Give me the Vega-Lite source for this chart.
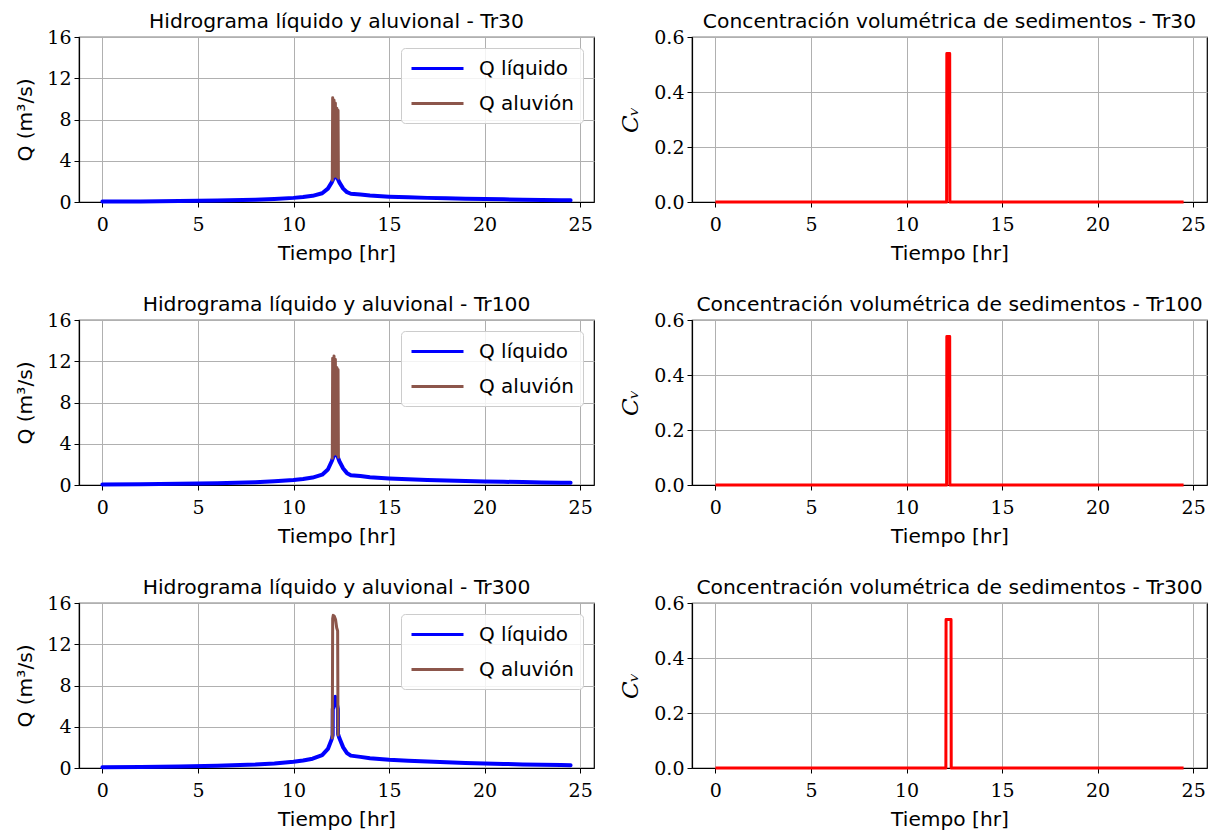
{
  "$schema": "https://vega.github.io/schema/vega-lite/v6.json",
  "background": "white",
  "padding": {"left": 15, "top": 11, "right": 3, "bottom": 5},
  "datasets": {
    "hidro": [
      {"tr": "Tr30", "serie": "Q líquido", "t": 0, "q": 0.05},
      {"tr": "Tr30", "serie": "Q líquido", "t": 2, "q": 0.06},
      {"tr": "Tr30", "serie": "Q líquido", "t": 4, "q": 0.09},
      {"tr": "Tr30", "serie": "Q líquido", "t": 6, "q": 0.14},
      {"tr": "Tr30", "serie": "Q líquido", "t": 8, "q": 0.22},
      {"tr": "Tr30", "serie": "Q líquido", "t": 9, "q": 0.3},
      {"tr": "Tr30", "serie": "Q líquido", "t": 10, "q": 0.4},
      {"tr": "Tr30", "serie": "Q líquido", "t": 10.5, "q": 0.48},
      {"tr": "Tr30", "serie": "Q líquido", "t": 11, "q": 0.6},
      {"tr": "Tr30", "serie": "Q líquido", "t": 11.5, "q": 0.85},
      {"tr": "Tr30", "serie": "Q líquido", "t": 11.8, "q": 1.3},
      {"tr": "Tr30", "serie": "Q líquido", "t": 12.0, "q": 1.9},
      {"tr": "Tr30", "serie": "Q líquido", "t": 12.1, "q": 2.3},
      {"tr": "Tr30", "serie": "Q líquido", "t": 12.2, "q": 2.55},
      {"tr": "Tr30", "serie": "Q líquido", "t": 12.3, "q": 2.3},
      {"tr": "Tr30", "serie": "Q líquido", "t": 12.4, "q": 1.9},
      {"tr": "Tr30", "serie": "Q líquido", "t": 12.6, "q": 1.3},
      {"tr": "Tr30", "serie": "Q líquido", "t": 12.8, "q": 0.95},
      {"tr": "Tr30", "serie": "Q líquido", "t": 13, "q": 0.8},
      {"tr": "Tr30", "serie": "Q líquido", "t": 13.5, "q": 0.72},
      {"tr": "Tr30", "serie": "Q líquido", "t": 14, "q": 0.62},
      {"tr": "Tr30", "serie": "Q líquido", "t": 15, "q": 0.52},
      {"tr": "Tr30", "serie": "Q líquido", "t": 16, "q": 0.45},
      {"tr": "Tr30", "serie": "Q líquido", "t": 17, "q": 0.4},
      {"tr": "Tr30", "serie": "Q líquido", "t": 18, "q": 0.36},
      {"tr": "Tr30", "serie": "Q líquido", "t": 19, "q": 0.32},
      {"tr": "Tr30", "serie": "Q líquido", "t": 20, "q": 0.29},
      {"tr": "Tr30", "serie": "Q líquido", "t": 21, "q": 0.26},
      {"tr": "Tr30", "serie": "Q líquido", "t": 22, "q": 0.23},
      {"tr": "Tr30", "serie": "Q líquido", "t": 23, "q": 0.2},
      {"tr": "Tr30", "serie": "Q líquido", "t": 24, "q": 0.18},
      {"tr": "Tr30", "serie": "Q líquido", "t": 24.5, "q": 0.17},
      {"tr": "Tr30", "serie": "Q aluvión", "t": 12.03, "q": 2.1},
      {"tr": "Tr30", "serie": "Q aluvión", "t": 12.05, "q": 10.1},
      {"tr": "Tr30", "serie": "Q aluvión", "t": 12.08, "q": 2.4},
      {"tr": "Tr30", "serie": "Q aluvión", "t": 12.12, "q": 9.9},
      {"tr": "Tr30", "serie": "Q aluvión", "t": 12.15, "q": 2.5},
      {"tr": "Tr30", "serie": "Q aluvión", "t": 12.19, "q": 9.6},
      {"tr": "Tr30", "serie": "Q aluvión", "t": 12.23, "q": 2.5},
      {"tr": "Tr30", "serie": "Q aluvión", "t": 12.27, "q": 9.1},
      {"tr": "Tr30", "serie": "Q aluvión", "t": 12.30, "q": 2.4},
      {"tr": "Tr30", "serie": "Q aluvión", "t": 12.33, "q": 8.9},
      {"tr": "Tr30", "serie": "Q aluvión", "t": 12.35, "q": 2.3},

      {"tr": "Tr100", "serie": "Q líquido", "t": 0, "q": 0.06},
      {"tr": "Tr100", "serie": "Q líquido", "t": 2, "q": 0.08},
      {"tr": "Tr100", "serie": "Q líquido", "t": 4, "q": 0.11},
      {"tr": "Tr100", "serie": "Q líquido", "t": 6, "q": 0.17},
      {"tr": "Tr100", "serie": "Q líquido", "t": 8, "q": 0.27},
      {"tr": "Tr100", "serie": "Q líquido", "t": 9, "q": 0.36},
      {"tr": "Tr100", "serie": "Q líquido", "t": 10, "q": 0.48},
      {"tr": "Tr100", "serie": "Q líquido", "t": 10.5, "q": 0.58},
      {"tr": "Tr100", "serie": "Q líquido", "t": 11, "q": 0.72},
      {"tr": "Tr100", "serie": "Q líquido", "t": 11.5, "q": 1.0},
      {"tr": "Tr100", "serie": "Q líquido", "t": 11.8, "q": 1.5},
      {"tr": "Tr100", "serie": "Q líquido", "t": 12.0, "q": 2.3},
      {"tr": "Tr100", "serie": "Q líquido", "t": 12.1, "q": 2.8},
      {"tr": "Tr100", "serie": "Q líquido", "t": 12.2, "q": 3.1},
      {"tr": "Tr100", "serie": "Q líquido", "t": 12.3, "q": 2.8},
      {"tr": "Tr100", "serie": "Q líquido", "t": 12.4, "q": 2.3},
      {"tr": "Tr100", "serie": "Q líquido", "t": 12.6, "q": 1.6},
      {"tr": "Tr100", "serie": "Q líquido", "t": 12.8, "q": 1.15},
      {"tr": "Tr100", "serie": "Q líquido", "t": 13, "q": 0.95},
      {"tr": "Tr100", "serie": "Q líquido", "t": 13.5, "q": 0.87},
      {"tr": "Tr100", "serie": "Q líquido", "t": 14, "q": 0.75},
      {"tr": "Tr100", "serie": "Q líquido", "t": 15, "q": 0.63},
      {"tr": "Tr100", "serie": "Q líquido", "t": 16, "q": 0.55},
      {"tr": "Tr100", "serie": "Q líquido", "t": 17, "q": 0.49},
      {"tr": "Tr100", "serie": "Q líquido", "t": 18, "q": 0.44},
      {"tr": "Tr100", "serie": "Q líquido", "t": 19, "q": 0.39},
      {"tr": "Tr100", "serie": "Q líquido", "t": 20, "q": 0.35},
      {"tr": "Tr100", "serie": "Q líquido", "t": 21, "q": 0.31},
      {"tr": "Tr100", "serie": "Q líquido", "t": 22, "q": 0.28},
      {"tr": "Tr100", "serie": "Q líquido", "t": 23, "q": 0.25},
      {"tr": "Tr100", "serie": "Q líquido", "t": 24, "q": 0.22},
      {"tr": "Tr100", "serie": "Q líquido", "t": 24.5, "q": 0.21},
      {"tr": "Tr100", "serie": "Q aluvión", "t": 12.03, "q": 2.6},
      {"tr": "Tr100", "serie": "Q aluvión", "t": 12.05, "q": 12.3},
      {"tr": "Tr100", "serie": "Q aluvión", "t": 12.08, "q": 2.9},
      {"tr": "Tr100", "serie": "Q aluvión", "t": 12.12, "q": 12.5},
      {"tr": "Tr100", "serie": "Q aluvión", "t": 12.15, "q": 3.0},
      {"tr": "Tr100", "serie": "Q aluvión", "t": 12.19, "q": 12.2},
      {"tr": "Tr100", "serie": "Q aluvión", "t": 12.23, "q": 3.0},
      {"tr": "Tr100", "serie": "Q aluvión", "t": 12.27, "q": 11.4},
      {"tr": "Tr100", "serie": "Q aluvión", "t": 12.30, "q": 2.9},
      {"tr": "Tr100", "serie": "Q aluvión", "t": 12.33, "q": 11.2},
      {"tr": "Tr100", "serie": "Q aluvión", "t": 12.35, "q": 2.7},

      {"tr": "Tr300", "serie": "Q líquido", "t": 0, "q": 0.07},
      {"tr": "Tr300", "serie": "Q líquido", "t": 2, "q": 0.1},
      {"tr": "Tr300", "serie": "Q líquido", "t": 4, "q": 0.14},
      {"tr": "Tr300", "serie": "Q líquido", "t": 6, "q": 0.21},
      {"tr": "Tr300", "serie": "Q líquido", "t": 8, "q": 0.33},
      {"tr": "Tr300", "serie": "Q líquido", "t": 9, "q": 0.44},
      {"tr": "Tr300", "serie": "Q líquido", "t": 10, "q": 0.6},
      {"tr": "Tr300", "serie": "Q líquido", "t": 10.5, "q": 0.72},
      {"tr": "Tr300", "serie": "Q líquido", "t": 11, "q": 0.9},
      {"tr": "Tr300", "serie": "Q líquido", "t": 11.5, "q": 1.25},
      {"tr": "Tr300", "serie": "Q líquido", "t": 11.8, "q": 1.85},
      {"tr": "Tr300", "serie": "Q líquido", "t": 12.0, "q": 2.8},
      {"tr": "Tr300", "serie": "Q líquido", "t": 12.05, "q": 3.2},
      {"tr": "Tr300", "serie": "Q líquido", "t": 12.055, "q": 5.7},
      {"tr": "Tr300", "serie": "Q líquido", "t": 12.19, "q": 6.9},
      {"tr": "Tr300", "serie": "Q líquido", "t": 12.325, "q": 5.7},
      {"tr": "Tr300", "serie": "Q líquido", "t": 12.33, "q": 3.3},
      {"tr": "Tr300", "serie": "Q líquido", "t": 12.4, "q": 2.9},
      {"tr": "Tr300", "serie": "Q líquido", "t": 12.6, "q": 2.0},
      {"tr": "Tr300", "serie": "Q líquido", "t": 12.8, "q": 1.45},
      {"tr": "Tr300", "serie": "Q líquido", "t": 13, "q": 1.2},
      {"tr": "Tr300", "serie": "Q líquido", "t": 13.5, "q": 1.08},
      {"tr": "Tr300", "serie": "Q líquido", "t": 14, "q": 0.95},
      {"tr": "Tr300", "serie": "Q líquido", "t": 15, "q": 0.8},
      {"tr": "Tr300", "serie": "Q líquido", "t": 16, "q": 0.7},
      {"tr": "Tr300", "serie": "Q líquido", "t": 17, "q": 0.62},
      {"tr": "Tr300", "serie": "Q líquido", "t": 18, "q": 0.55},
      {"tr": "Tr300", "serie": "Q líquido", "t": 19, "q": 0.49},
      {"tr": "Tr300", "serie": "Q líquido", "t": 20, "q": 0.44},
      {"tr": "Tr300", "serie": "Q líquido", "t": 21, "q": 0.39},
      {"tr": "Tr300", "serie": "Q líquido", "t": 22, "q": 0.35},
      {"tr": "Tr300", "serie": "Q líquido", "t": 23, "q": 0.31},
      {"tr": "Tr300", "serie": "Q líquido", "t": 24, "q": 0.28},
      {"tr": "Tr300", "serie": "Q líquido", "t": 24.5, "q": 0.27},
      {"tr": "Tr300", "serie": "Q aluvión", "t": 12.03, "q": 2.9},
      {"tr": "Tr300", "serie": "Q aluvión", "t": 12.05, "q": 14.5},
      {"tr": "Tr300", "serie": "Q aluvión", "t": 12.08, "q": 14.8},
      {"tr": "Tr300", "serie": "Q aluvión", "t": 12.14, "q": 14.7},
      {"tr": "Tr300", "serie": "Q aluvión", "t": 12.2, "q": 14.4},
      {"tr": "Tr300", "serie": "Q aluvión", "t": 12.26, "q": 13.6},
      {"tr": "Tr300", "serie": "Q aluvión", "t": 12.31, "q": 13.3},
      {"tr": "Tr300", "serie": "Q aluvión", "t": 12.33, "q": 3.2}
    ],
    "cv": [
      {"tr": "Tr30", "t": 0, "cv": 0},
      {"tr": "Tr30", "t": 12.1, "cv": 0},
      {"tr": "Tr30", "t": 12.11, "cv": 0.54},
      {"tr": "Tr30", "t": 12.26, "cv": 0.54},
      {"tr": "Tr30", "t": 12.27, "cv": 0},
      {"tr": "Tr30", "t": 24.5, "cv": 0},
      {"tr": "Tr100", "t": 0, "cv": 0},
      {"tr": "Tr100", "t": 12.1, "cv": 0},
      {"tr": "Tr100", "t": 12.11, "cv": 0.54},
      {"tr": "Tr100", "t": 12.26, "cv": 0.54},
      {"tr": "Tr100", "t": 12.27, "cv": 0},
      {"tr": "Tr100", "t": 24.5, "cv": 0},
      {"tr": "Tr300", "t": 0, "cv": 0},
      {"tr": "Tr300", "t": 12.06, "cv": 0},
      {"tr": "Tr300", "t": 12.07, "cv": 0.54},
      {"tr": "Tr300", "t": 12.33, "cv": 0.54},
      {"tr": "Tr300", "t": 12.34, "cv": 0},
      {"tr": "Tr300", "t": 24.5, "cv": 0}
    ]
  },
  "columns": 2,
  "spacing": {"row": 118, "column": 98},
  "bounds": "flush",
  "resolve": {"scale": {"color": "independent"}, "legend": {"color": "independent"}},
  "concat": [
    {
      "width": 515, "height": 165,
      "title": "Hidrograma líquido y aluvional - Tr30",
      "data": {"name": "hidro"},
      "transform": [{"filter": "datum.tr === 'Tr30'"}],
      "encoding": {
        "x": {"field": "t", "type": "quantitative", "scale": {"domain": [-1.225, 25.725], "nice": false, "zero": false},
              "axis": {"title": "Tiempo [hr]", "values": [0, 5, 10, 15, 20, 25]}},
        "y": {"field": "q", "type": "quantitative", "scale": {"domain": [0, 16], "nice": false},
              "axis": {"title": "Q (m³/s)", "values": [0, 4, 8, 12, 16]}}
      },
      "layer": [
        {"transform": [{"filter": "datum.serie === 'Q líquido'"}], "mark": {"type": "line", "strokeWidth": 4, "strokeJoin": "round", "strokeCap": "round"},
         "encoding": {"color": {"datum": "Q líquido", "type": "nominal", "scale": {"domain": ["Q líquido", "Q aluvión"], "range": ["#0000ff", "#8c564b"]}}}},
        {"transform": [{"filter": "datum.serie === 'Q aluvión'"}], "mark": {"type": "line", "strokeWidth": 3, "strokeJoin": "round", "strokeCap": "round"},
         "encoding": {"color": {"datum": "Q aluvión", "type": "nominal"}}}
      ]
    },
    {
      "width": 515, "height": 165,
      "title": "Concentración volumétrica de sedimentos - Tr30",
      "data": {"name": "cv"},
      "transform": [{"filter": "datum.tr === 'Tr30'"}],
      "mark": {"type": "line", "color": "#ff0000", "strokeWidth": 3, "strokeJoin": "round"},
      "encoding": {
        "x": {"field": "t", "type": "quantitative", "scale": {"domain": [-1.225, 25.725], "nice": false, "zero": false},
              "axis": {"title": "Tiempo [hr]", "values": [0, 5, 10, 15, 20, 25]}},
        "y": {"field": "cv", "type": "quantitative", "scale": {"domain": [0, 0.6], "nice": false},
              "axis": {"title": "Cᵥ", "values": [0, 0.2, 0.4, 0.6], "format": ".1f", "titleFont": "DejaVu Serif", "titleFontStyle": "italic", "titleFontSize": 23}}
      }
    },
    {
      "width": 515, "height": 165,
      "title": "Hidrograma líquido y aluvional - Tr100",
      "data": {"name": "hidro"},
      "transform": [{"filter": "datum.tr === 'Tr100'"}],
      "encoding": {
        "x": {"field": "t", "type": "quantitative", "scale": {"domain": [-1.225, 25.725], "nice": false, "zero": false},
              "axis": {"title": "Tiempo [hr]", "values": [0, 5, 10, 15, 20, 25]}},
        "y": {"field": "q", "type": "quantitative", "scale": {"domain": [0, 16], "nice": false},
              "axis": {"title": "Q (m³/s)", "values": [0, 4, 8, 12, 16]}}
      },
      "layer": [
        {"transform": [{"filter": "datum.serie === 'Q líquido'"}], "mark": {"type": "line", "strokeWidth": 4, "strokeJoin": "round", "strokeCap": "round"},
         "encoding": {"color": {"datum": "Q líquido", "type": "nominal", "scale": {"domain": ["Q líquido", "Q aluvión"], "range": ["#0000ff", "#8c564b"]}}}},
        {"transform": [{"filter": "datum.serie === 'Q aluvión'"}], "mark": {"type": "line", "strokeWidth": 3, "strokeJoin": "round", "strokeCap": "round"},
         "encoding": {"color": {"datum": "Q aluvión", "type": "nominal"}}}
      ]
    },
    {
      "width": 515, "height": 165,
      "title": "Concentración volumétrica de sedimentos - Tr100",
      "data": {"name": "cv"},
      "transform": [{"filter": "datum.tr === 'Tr100'"}],
      "mark": {"type": "line", "color": "#ff0000", "strokeWidth": 3, "strokeJoin": "round"},
      "encoding": {
        "x": {"field": "t", "type": "quantitative", "scale": {"domain": [-1.225, 25.725], "nice": false, "zero": false},
              "axis": {"title": "Tiempo [hr]", "values": [0, 5, 10, 15, 20, 25]}},
        "y": {"field": "cv", "type": "quantitative", "scale": {"domain": [0, 0.6], "nice": false},
              "axis": {"title": "Cᵥ", "values": [0, 0.2, 0.4, 0.6], "format": ".1f", "titleFont": "DejaVu Serif", "titleFontStyle": "italic", "titleFontSize": 23}}
      }
    },
    {
      "width": 515, "height": 165,
      "title": "Hidrograma líquido y aluvional - Tr300",
      "data": {"name": "hidro"},
      "transform": [{"filter": "datum.tr === 'Tr300'"}],
      "encoding": {
        "x": {"field": "t", "type": "quantitative", "scale": {"domain": [-1.225, 25.725], "nice": false, "zero": false},
              "axis": {"title": "Tiempo [hr]", "values": [0, 5, 10, 15, 20, 25]}},
        "y": {"field": "q", "type": "quantitative", "scale": {"domain": [0, 16], "nice": false},
              "axis": {"title": "Q (m³/s)", "values": [0, 4, 8, 12, 16]}}
      },
      "layer": [
        {"transform": [{"filter": "datum.serie === 'Q líquido'"}], "mark": {"type": "line", "strokeWidth": 4, "strokeJoin": "round", "strokeCap": "round"},
         "encoding": {"color": {"datum": "Q líquido", "type": "nominal", "scale": {"domain": ["Q líquido", "Q aluvión"], "range": ["#0000ff", "#8c564b"]}}}},
        {"transform": [{"filter": "datum.serie === 'Q aluvión'"}], "mark": {"type": "line", "strokeWidth": 3, "strokeJoin": "round", "strokeCap": "round"},
         "encoding": {"color": {"datum": "Q aluvión", "type": "nominal"}}}
      ]
    },
    {
      "width": 515, "height": 165,
      "title": "Concentración volumétrica de sedimentos - Tr300",
      "data": {"name": "cv"},
      "transform": [{"filter": "datum.tr === 'Tr300'"}],
      "mark": {"type": "line", "color": "#ff0000", "strokeWidth": 3, "strokeJoin": "round"},
      "encoding": {
        "x": {"field": "t", "type": "quantitative", "scale": {"domain": [-1.225, 25.725], "nice": false, "zero": false},
              "axis": {"title": "Tiempo [hr]", "values": [0, 5, 10, 15, 20, 25]}},
        "y": {"field": "cv", "type": "quantitative", "scale": {"domain": [0, 0.6], "nice": false},
              "axis": {"title": "Cᵥ", "values": [0, 0.2, 0.4, 0.6], "format": ".1f", "titleFont": "DejaVu Serif", "titleFontStyle": "italic", "titleFontSize": 23}}
      }
    }
  ],
  "config": {
    "view": {"stroke": "black", "strokeWidth": 1.2},
    "font": "DejaVu Sans",
    "title": {"font": "DejaVu Sans", "fontSize": 20.3, "fontWeight": "normal", "color": "black", "offset": -4},
    "axis": {
      "labelFont": "DejaVu Serif", "labelFontSize": 19, "labelColor": "black",
      "titleFont": "DejaVu Sans", "titleFontSize": 20.2, "titleFontWeight": "normal", "titleColor": "black",
      "domainColor": "black", "domainWidth": 1.2, "tickColor": "black", "tickSize": 5, "tickWidth": 1,
      "gridColor": "#b0b0b0", "gridWidth": 1, "labelPadding": 3, "labelFlush": false, "labelOverlap": false
    },
    "axisX": {"titlePadding": 9, "labelPadding": 8},
    "axisY": {"titlePadding": 11},
    "legend": {
      "orient": "top-right", "offset": 11, "title": null,
      "padding": 9, "rowPadding": 13,
      "fillColor": "rgba(255,255,255,0.85)", "strokeColor": "#cccccc", "cornerRadius": 4,
      "symbolType": "M-1,0H4.2", "symbolSize": 400, "symbolStrokeWidth": 3,
      "labelOffset": 46, "labelFontSize": 20, "labelFont": "DejaVu Sans", "labelColor": "black"
    }
  }
}
